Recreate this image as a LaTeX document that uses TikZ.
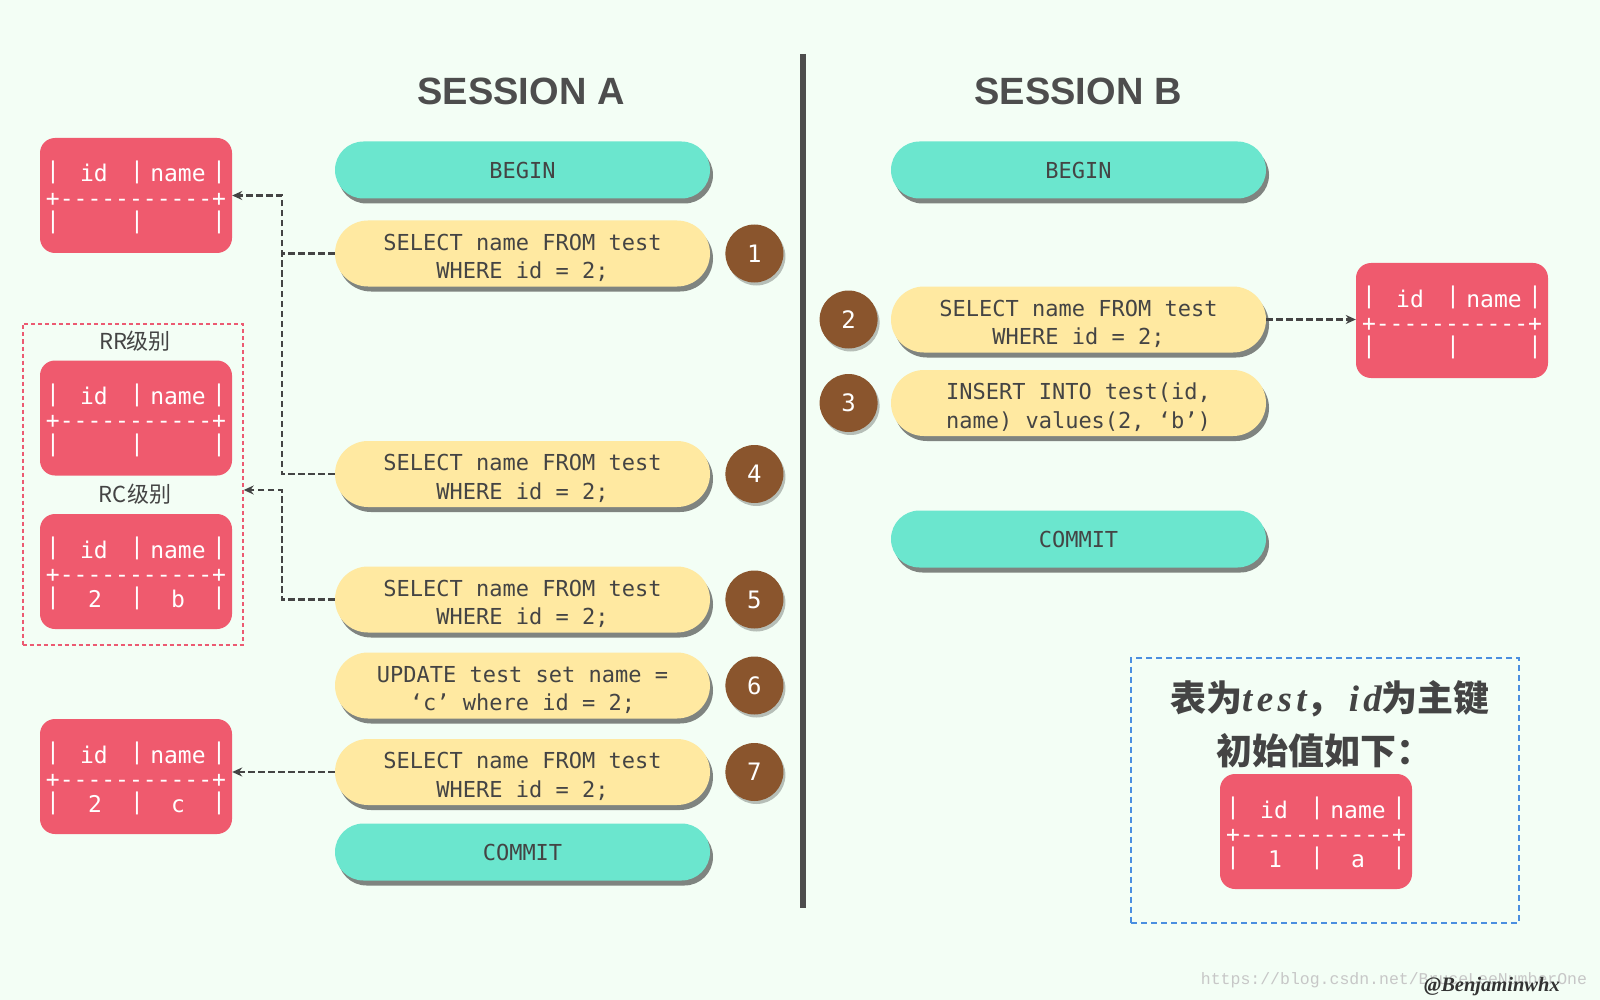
\documentclass[tikz,border=0pt]{standalone}
\usepackage{fontspec}
\setmonofont{DejaVu Sans Mono}
\newfontfamily\cjk{Noto Sans CJK SC}
\newfontfamily\titlefont{Liberation Sans}
\newfontfamily\serifit{Liberation Serif}
\newfontfamily\legendlat{Liberation Serif}[LetterSpace=12]
\newfontfamily\wmfont{Liberation Mono}
\usetikzlibrary{positioning,arrows.meta,calc,shadows}
\definecolor{sqlbg}{HTML}{F3FEF5}
\definecolor{sqlteal}{HTML}{6BE6CE}
\definecolor{sqlyellow}{HTML}{FFE9A1}
\definecolor{sqlbrown}{HTML}{8A552D}
\definecolor{sqlred}{HTML}{EF5A6E}
\definecolor{sqlink}{HTML}{444444}
\definecolor{sqlpink}{HTML}{EC5A72}
\definecolor{sqlblue}{HTML}{4A8FE0}

% lowers a two-line statement a little inside its pill
\newcommand{\topstrut}{\rule{0pt}{25pt}}

% a red result table: name, centre, id value, name value
\newcommand{\sqltable}[4]{%
  \node[tblbox] (#1) at (#2) {};
  \foreach \col [count=\k] in {-83,1,83}{%
    \node[tbltxt] (#1-top\k) at ($(#1)+(\col,-23)$) {|};
    \node[tbltxt] (#1-bot\k) at ($(#1)+(\col,27)$) {|};
  }
  \node[tbltxt,anchor=base] (#1-hid) at ($(#1)+(-42,-13.5)$) {id};
  \node[tbltxt,anchor=base] (#1-hname) at ($(#1)+(42,-13.5)$) {name};
  \node[tbltxt] (#1-rule) at ($(#1)+(0,4)$) {+-----------+};
  \node[tbltxt,anchor=base] (#1-vid) at ($(#1)+(-41,36)$) {#3};
  \node[tbltxt,anchor=base] (#1-vname) at ($(#1)+(42,36)$) {#4};
}

\begin{document}
\begin{tikzpicture}[x=1pt,y=-1pt,
  pill/.style={align=center,text=sqlink,inner sep=2pt,minimum width=375pt,
    font=\ttfamily\fontsize{22}{28.5}\selectfont,
    drop shadow={shadow xshift=3pt,shadow yshift=-5pt,fill=black!80,opacity=.6}},
  ctrl/.style={pill,fill=sqlteal,minimum height=57pt,rounded corners=28.5pt},
  stmt/.style={pill,fill=sqlyellow,minimum height=66pt,rounded corners=33pt},
  stepnum/.style={circle,fill=sqlbrown,minimum size=58pt,inner sep=0pt,text=white,
    font=\ttfamily\fontsize{24}{24}\selectfont,
    drop shadow={shadow xshift=2pt,shadow yshift=-3pt,fill=black,opacity=.25}},
  tblbox/.style={fill=sqlred,rounded corners=15pt,minimum width=192pt,minimum height=115pt},
  tbltxt/.style={text=white,inner sep=0pt,font=\ttfamily\fontsize{23}{23}\selectfont},
  link/.style={draw=sqlink,dash pattern=on 6.5pt off 3.5pt,line width=2.1pt,
    -{Stealth[length=10pt,width=9pt]}},
  title/.style={text=sqlink!95,font=\titlefont\bfseries\fontsize{38}{38}\selectfont},
  cjklab/.style={text=sqlink,font=\cjk\fontsize{22}{22}\selectfont}]

  \useasboundingbox (0,0) rectangle (1600,1000);
  \fill[sqlbg] (0,0) rectangle (1600,1000);

  % divider and headings
  \draw[sqlink!95,line width=6pt] (803,54) -- (803,908);
  \node[title] (titleA) at (521,91) {SESSION A};
  \node[title] (titleB) at (1078,91) {SESSION B};

  % session A
  \node[ctrl] (beginA) at (522.5,170) {BEGIN};
  \node[stmt] (sel1) at (522.5,253.5) {\topstrut SELECT name FROM test\\WHERE id = 2;};
  \node[stmt] (sel4) at (522.5,474) {\topstrut SELECT name FROM test\\WHERE id = 2;};
  \node[stmt] (sel5) at (522.5,599.5) {\topstrut SELECT name FROM test\\WHERE id = 2;};
  \node[stmt] (upd6) at (522.5,685.5) {\topstrut UPDATE test set name =\\‘c’ where id = 2;};
  \node[stmt] (sel7) at (522.5,772) {\topstrut SELECT name FROM test\\WHERE id = 2;};
  \node[ctrl] (commitA) at (522.5,852) {COMMIT};
  \node[stepnum,right=15pt of sel1] (n1) {1};
  \node[stepnum,right=15pt of sel4] (n4) {4};
  \node[stepnum,right=15pt of sel5] (n5) {5};
  \node[stepnum,right=15pt of upd6] (n6) {6};
  \node[stepnum,right=15pt of sel7] (n7) {7};

  % session B
  \node[ctrl] (beginB) at (1078.5,170) {BEGIN};
  \node[stmt] (sel2) at (1078.5,319.5) {\topstrut SELECT name FROM test\\WHERE id = 2;};
  \node[stmt] (ins3) at (1078.5,403) {\topstrut INSERT INTO test(id,\\name) values(2, ‘b’)};
  \node[ctrl] (commitB) at (1078.5,539) {COMMIT};
  \node[stepnum,left=13pt of sel2] (n2) {2};
  \node[stepnum,left=13pt of ins3] (n3) {3};

  % result tables
  \sqltable{tab1}{136,195.5}{}{}
  \node[draw=sqlpink,line width=2pt,dash pattern=on 4pt off 3pt,
    minimum width=220pt,minimum height=321pt] (iso) at (132.7,484) {};
  \node[cjklab] (rrlab) at (135,341) {RR级别};
  \sqltable{tabRR}{136,418}{}{}
  \node[cjklab] (rclab) at (135,494) {RC级别};
  \sqltable{tabRC}{136,571.5}{2}{b}
  \sqltable{tab7}{136,776.5}{2}{c}
  \sqltable{tab2}{1452,320.5}{}{}

  % connectors
  \coordinate (jA) at ([xshift=-53pt]sel1.west);
  \draw[link] (sel1.west) -- (jA) |- (tab1.east);
  \draw[link,-] (sel4.west) -| (jA);
  \draw[link] (sel5.west) -- ++(-53,0) |- ([yshift=-6pt]iso.east);
  \draw[link] (sel7.west) -- (sel7.west -| tab7.east);
  \draw[link] (sel2.east) -- (sel2.east -| tab2.west);

  % legend
  \node[draw=sqlblue,line width=2pt,dash pattern=on 6pt off 4pt,
    minimum width=388pt,minimum height=265pt] (legend) at (1325,790) {};
  \node[text=sqlink,font=\cjk\bfseries\fontsize{36}{36}\selectfont] (leg1) at (1330,699)
    {表为{\legendlat\itshape\fontsize{37}{37}\selectfont test}，\hspace{6pt}{\legendlat\itshape\fontsize{37}{37}\selectfont id}为主键};
  \node[text=sqlink,font=\cjk\bfseries\fontsize{36}{36}\selectfont] (leg2) at (1324,751)
    {初始值如下：};
  \sqltable{tabInit}{1316,831.5}{1}{a}

  % watermarks
  \node[text=black!22,font=\wmfont\fontsize{16.5}{16.5}\selectfont] (wmurl) at (1394,980)
    {https://blog.csdn.net/BruceLeeNumberOne};
  \node[text=black!80,font=\serifit\bfseries\itshape\fontsize{20.5}{20.5}\selectfont] (wmname)
    at (1492,987) {@Benjaminwhx};
\end{tikzpicture}
\end{document}
